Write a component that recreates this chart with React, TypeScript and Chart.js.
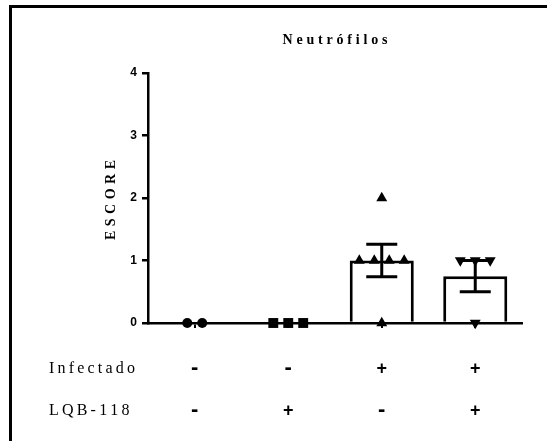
import { useEffect, useRef } from 'react';
import { Chart, registerables } from 'chart.js';

Chart.register(...registerables);

// Groups and individual scores per animal
const groupLabels = ['Controle', 'LQB-118', 'Infectado', 'Infectado + LQB-118'];
const scoreControle = [0, 0];
const scoreLqb = [0, 0, 0];
const scoreInfectado = [0, 1, 1, 1, 1, 2];
const scoreInfectadoLqb = [0, 1, 1, 1];

// Treatment table under the axis
const rowLabels = ['Infectado', 'LQB-118'];
const infectadoRow = ['-', '-', '+', '+'];
const lqbRow = ['-', '+', '-', '+'];

const yTicks = [0, 1, 2, 3, 4];
const chartTitle = 'Neutrófilos';
const yTitle = 'ESCORE';

const markerStyles = ['circle', 'rect', 'triangle', 'triangle'];
const markerRotations = [0, 0, 0, 180];
const markerRadius = [5, 7, 6.3, 6.3];

const groups = [scoreControle, scoreLqb, scoreInfectado, scoreInfectadoLqb];

const mean = (v: number[]) => v.reduce((a, b) => a + b, 0) / v.length;
const sem = (v: number[]) => {
  const m = mean(v);
  const variance = v.reduce((a, b) => a + (b - m) * (b - m), 0) / (v.length - 1);
  return Math.sqrt(variance) / Math.sqrt(v.length);
};

// Spread tied values sideways around the group centre
const SPREAD = 0.16;
function spreadPoints(values: number[], center: number) {
  const counts = new Map<number, number>();
  values.forEach((v) => counts.set(v, (counts.get(v) || 0) + 1));
  const seen = new Map<number, number>();
  return values.map((v) => {
    const k = counts.get(v) as number;
    const j = seen.get(v) || 0;
    seen.set(v, j + 1);
    return { x: center + (j - (k - 1) / 2) * SPREAD, y: v };
  });
}

const SERIF = "'Liberation Serif', 'Times New Roman', serif";
const SANS = "'Liberation Sans', Arial, sans-serif";

function drawSpaced(ctx: CanvasRenderingContext2D, text: string, x: number, y: number, spacing: number, align: 'left' | 'center') {
  const chars = [...text];
  const widths = chars.map((c) => ctx.measureText(c).width);
  const total = widths.reduce((a, b) => a + b, 0) + spacing * (chars.length - 1);
  let cx = align === 'center' ? x - total / 2 : x;
  ctx.textAlign = 'left';
  chars.forEach((c, i) => {
    ctx.fillText(c, cx, y);
    cx += widths[i] + spacing;
  });
}

const decorPlugin = {
  id: 'decor',
  beforeDraw(chart: any) {
    const { ctx, width, height } = chart;
    ctx.save();
    ctx.fillStyle = '#ffffff';
    ctx.fillRect(0, 0, width, height);
    // frame (top and left edges)
    ctx.fillStyle = '#000000';
    ctx.fillRect(9, 5, width - 9, 3);
    ctx.fillRect(9, 5, 3, height - 5);
    ctx.restore();
  },
  afterDatasetsDraw(chart: any) {
    const { ctx } = chart;
    const xs = chart.scales.x;
    const ys = chart.scales.y;
    ctx.save();
    ctx.strokeStyle = '#000000';
    ctx.lineWidth = 3;
    groups.forEach((g, i) => {
      const s = sem(g);
      if (!(s > 0)) return;
      const m = mean(g);
      const x = xs.getPixelForValue(i);
      const yTop = ys.getPixelForValue(m + s);
      const yBot = ys.getPixelForValue(m - s);
      const half = 15.5;
      ctx.beginPath();
      ctx.moveTo(x, yTop);
      ctx.lineTo(x, yBot);
      ctx.moveTo(x - half, yTop);
      ctx.lineTo(x + half, yTop);
      ctx.moveTo(x - half, yBot);
      ctx.lineTo(x + half, yBot);
      ctx.stroke();
    });
    ctx.restore();
  },
  afterDraw(chart: any) {
    const { ctx, chartArea } = chart;
    const xs = chart.scales.x;
    ctx.save();
    ctx.fillStyle = '#000000';
    ctx.textBaseline = 'middle';

    // title
    ctx.font = `bold 14px ${SERIF}`;
    drawSpaced(ctx, chartTitle, (chartArea.left + chartArea.right) / 2, 40, 3.8, 'center');

    // y-axis title
    ctx.save();
    ctx.translate(111, (chartArea.top + chartArea.bottom) / 2 + 2);
    ctx.rotate(-Math.PI / 2);
    ctx.font = `bold 14px ${SERIF}`;
    drawSpaced(ctx, yTitle, 0, 0, 4.5, 'center');
    ctx.restore();

    // treatment table
    const rows = [infectadoRow, lqbRow];
    const rowY = [369, 411];
    rows.forEach((row, r) => {
      ctx.font = `16px ${SERIF}`;
      drawSpaced(ctx, rowLabels[r], 49, rowY[r], 3.2, 'left');
      ctx.textAlign = 'center';
      row.forEach((sign, i) => {
        ctx.font = sign === '-' ? `bold 22px ${SANS}` : `bold 18px ${SANS}`;
        ctx.fillText(sign, xs.getPixelForValue(i), rowY[r] - (sign === '-' ? 1 : 0));
      });
    });
    ctx.restore();
  },
};

export default function App() {
  const canvasRef = useRef<HTMLCanvasElement | null>(null);

  useEffect(() => {
    const canvas = canvasRef.current;
    if (!canvas) return;

    const scatterSets = groups.map((g, i) => ({
      type: 'scatter' as const,
      label: groupLabels[i],
      data: spreadPoints(g, i),
      xAxisID: 'xs',
      yAxisID: 'y',
      pointStyle: markerStyles[i],
      rotation: markerRotations[i],
      pointRadius: markerRadius[i],
      pointBackgroundColor: '#000000',
      pointBorderColor: '#000000',
      pointBorderWidth: 0,
      showLine: false,
      clip: false,
      order: 0,
    }));

    const chart = new Chart(canvas, {
      type: 'bar',
      data: {
        labels: groupLabels,
        datasets: [
          ...scatterSets,
          {
            type: 'bar' as const,
            label: 'Média',
            data: groups.map(mean),
            xAxisID: 'x',
            yAxisID: 'y',
            backgroundColor: '#ffffff',
            borderColor: '#000000',
            borderWidth: 3,
            borderSkipped: 'start',
            grouped: false,
            categoryPercentage: 1,
            barPercentage: 0.685,
            order: 1,
          },
        ] as any,
      },
      options: {
        animation: false,
        responsive: false,
        devicePixelRatio: 1,
        layout: { padding: { top: 73, right: 25, left: 0, bottom: 0 } },
        plugins: {
          legend: { display: false },
          tooltip: { enabled: false },
          title: { display: false },
        },
        scales: {
          x: {
            type: 'category',
            offset: true,
            grid: {
              offset: false,
              drawOnChartArea: false,
              tickLength: 5,
              color: '#000000',
              lineWidth: 2,
            },
            border: { color: '#000000', width: 2.5 },
            ticks: { display: false },
            afterFit: (s: any) => {
              s.height = 118;
            },
          },
          xs: {
            type: 'linear',
            display: false,
            offset: false,
            min: -0.5,
            max: 3.5,
          },
          y: {
            type: 'linear',
            min: 0,
            max: 4,
            afterBuildTicks: (s: any) => {
              s.ticks = yTicks.map((v) => ({ value: v }));
            },
            ticks: {
              color: '#000000',
              padding: 5,
              font: { family: SANS, size: 12, weight: 'bold' },
            },
            grid: {
              drawOnChartArea: false,
              tickLength: 6,
              color: '#000000',
              lineWidth: 2.5,
            },
            border: { color: '#000000', width: 2.5 },
            afterFit: (s: any) => {
              s.width = 148;
            },
          },
        },
      } as any,
      plugins: [decorPlugin],
    });

    return () => chart.destroy();
  }, []);

  return (
    <div style={{ position: 'fixed', left: 0, top: 0, width: 547, height: 441, background: '#ffffff' }}>
      <canvas ref={canvasRef} width={547} height={441} style={{ display: 'block' }} />
    </div>
  );
}
